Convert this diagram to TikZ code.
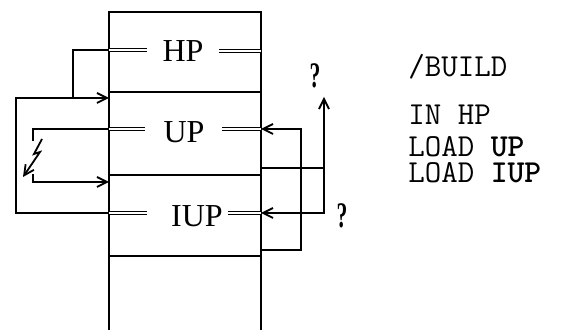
\documentclass[tikz,border=0pt]{standalone}
\usepackage{fontspec}
\setmainfont{Liberation Serif}
\usetikzlibrary{
  arrows.meta,%
  calc,%
  positioning
}
\tikzset{>={Straight Barb[length=5pt,width=5pt]}}
\tikzset{wire/.style={line width=0.9pt}}
\tikzset{wall/.style={line width=1pt}}
\tikzset{bus/.style={double, double distance=0.9pt, line width=0.7pt}}
\tikzset{part/.style={font=\fontsize{16}{18}\selectfont, inner sep=0pt}}
\tikzset{cmd/.style={font=\ttfamily\fontsize{16}{13}\selectfont, anchor=base west, inner sep=0pt, align=left}}
\tikzset{query/.style={font=\bfseries\fontsize{18}{20}\selectfont, inner sep=0pt}}

\begin{document}
\begin{tikzpicture}[x=0.5pt, y=-0.5pt]
      \useasboundingbox (0,0) rectangle (568,330);%
      % the storage column
      \coordinate (top-l) at (109,12);%
      \coordinate (top-r) at (261,12);%
      \draw [wall] (109,332) -- (top-l) -- (top-r) -- (261,332);%
      \foreach \y in {92,175,256} \draw [wall] (109,\y) -- (261,\y);%
      \node [part] (hp) at (183,51) {HP};%
      \node [part] (up) at (184,132) {UP};%
      \node [part] (iup) at (197,216) {IUP};%
      % bus ends on the column walls
      \coordinate (hpL) at (109,50);%
      \coordinate (hpR) at (261,51);%
      \coordinate (upL) at (109,129);%
      \coordinate (upR) at (261,129);%
      \coordinate (iupL) at (109,213);%
      \coordinate (iupR) at (261,213);%
      \draw [bus] (hpL) -- ++(38,0);%
      \draw [bus] (hpR) -- ++(-42,0);%
      \draw [bus] (upL) -- ++(36,0);%
      \draw [bus] (upR) -- ++(-39,0);%
      \draw [bus] (iupL) -- ++(38,0);%
      \draw [bus] (iupR) -- ++(-33,0);%
      % left side links
      \coordinate (upTop) at (109,98);%
      \coordinate (outer) at (16,98);%
      \coordinate (join) at (73,98);%
      \draw [wire, ->] (iupL) -| (outer) -- (upTop);%
      \draw [wire] (hpL) -| (join);%
      \coordinate (brkA) at (33,141);%
      \coordinate (brkB) at (33,174);%
      \coordinate (upLow) at (109,182);%
      \draw [wire] (upL) -| (brkA);%
      \draw [wire, ->] (42,139) -- (34,154) -- (40,152) -- (23,177);%
      \draw [wire, ->] (brkB) |- (upLow);%
      % right side links
      \coordinate (upBack) at (261,250);%
      \coordinate (upTurn) at (301,129);%
      \draw [wire, ->] (upBack) -| (upTurn) -- (upR);%
      \coordinate (tap) at (261,168);%
      \coordinate (qEnd) at (324,97);%
      \draw [wire, ->] (tap) -| (qEnd);%
      \draw [wire, ->] (tap -| qEnd) |- (iupR);%
      \node [query] (qTop) at (315,76) {\scalebox{0.6}[1]{?}};%
      \node [query] (qBot) at (342,216) {\scalebox{0.6}[1]{?}};%
      % the command text
      \node [cmd] (build) at (408,77) {/BUILD};%
      \node [cmd] (inhp) at (408,125) {IN HP};%
      \node [cmd] (loads) at (408,183) {LOAD \textbf{UP}\\LOAD \textbf{IUP}};%
\end{tikzpicture}
\end{document}
